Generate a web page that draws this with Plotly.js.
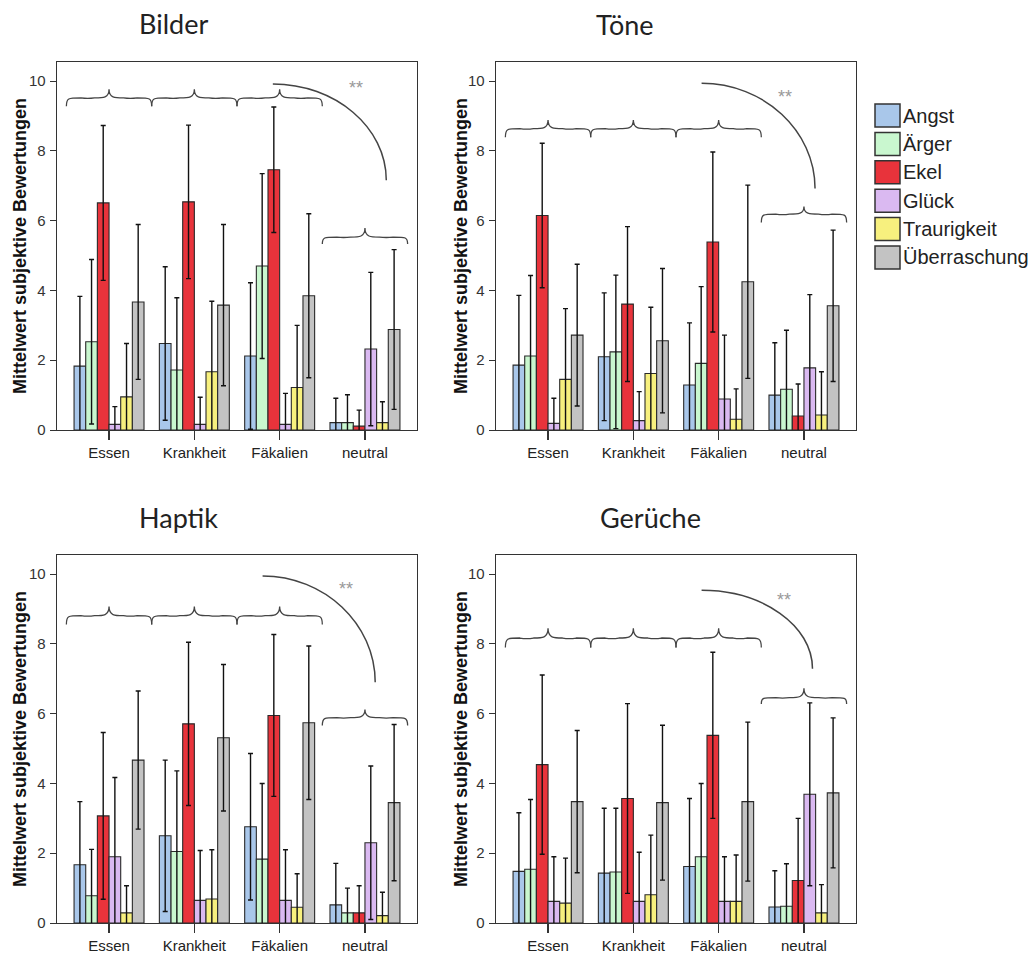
<!DOCTYPE html>
<html><head><meta charset="utf-8">
<script src="https://cdn.plot.ly/plotly-3.0.1.min.js"></script>
<style>html,body{margin:0;padding:0;background:#fff}#chart{width:1034px;height:954px}</style>
</head><body><div id="chart"></div>
<script>
const categories = ['Essen', 'Krankheit', 'Fäkalien', 'neutral'];
const emotions = ['Angst', 'Ärger', 'Ekel', 'Glück', 'Traurigkeit', 'Überraschung'];
const colors = ['#a9c7ea', '#c9f7cf', '#e8333b', '#dab9f1', '#f7f07e', '#c3c3c3'];
const panelTitles = ['Bilder', 'Töne', 'Haptik', 'Gerüche'];
const yTitle = 'Mittelwert subjektive Bewertungen';
const yTicks = [0, 2, 4, 6, 8, 10];

// rows = emotions, columns = categories
const bilderMeans = [
  [1.83, 2.48, 2.12, 0.21],
  [2.53, 1.72, 4.70, 0.21],
  [6.51, 6.54, 7.46, 0.11],
  [0.16, 0.16, 0.16, 2.32],
  [0.95, 1.67, 1.22, 0.21],
  [3.67, 3.58, 3.85, 2.88]
];
const bilderSD = [
  [2.00, 2.20, 2.10, 0.70],
  [2.36, 2.07, 2.65, 0.80],
  [2.22, 2.20, 1.80, 0.46],
  [0.51, 0.78, 0.89, 2.20],
  [1.53, 2.02, 1.78, 0.60],
  [2.22, 2.31, 2.35, 2.29]
];
const toeneMeans = [
  [1.86, 2.10, 1.29, 1.00],
  [2.12, 2.24, 1.91, 1.17],
  [6.15, 3.61, 5.39, 0.40],
  [0.19, 0.27, 0.89, 1.78],
  [1.45, 1.62, 0.31, 0.43],
  [2.72, 2.56, 4.25, 3.56]
];
const toeneSD = [
  [2.00, 1.83, 1.78, 1.50],
  [2.31, 2.20, 2.20, 1.69],
  [2.07, 2.22, 2.58, 0.92],
  [0.72, 0.83, 1.83, 2.10],
  [2.03, 1.90, 0.87, 1.24],
  [2.03, 2.07, 2.77, 2.17]
];
const haptikMeans = [
  [1.67, 2.50, 2.76, 0.52],
  [0.78, 2.05, 1.83, 0.29],
  [3.07, 5.71, 5.95, 0.29],
  [1.90, 0.65, 0.65, 2.30],
  [0.29, 0.69, 0.45, 0.21],
  [4.67, 5.31, 5.74, 3.45]
];
const haptikSD = [
  [1.81, 2.17, 2.10, 1.19],
  [1.33, 2.31, 2.17, 0.71],
  [2.39, 2.34, 2.32, 0.78],
  [2.27, 1.43, 1.45, 2.20],
  [0.78, 1.41, 0.96, 0.67],
  [1.98, 2.10, 2.20, 2.24]
];
const geruecheMeans = [
  [1.48, 1.43, 1.62, 0.46],
  [1.54, 1.46, 1.90, 0.48],
  [4.54, 3.57, 5.38, 1.22],
  [0.62, 0.62, 0.62, 3.69],
  [0.57, 0.81, 0.62, 0.29],
  [3.48, 3.45, 3.48, 3.73]
];
const geruecheSD = [
  [1.68, 1.86, 1.95, 1.04],
  [2.00, 1.83, 2.10, 1.22],
  [2.57, 2.72, 2.38, 1.78],
  [1.28, 1.41, 1.28, 2.62],
  [1.29, 1.71, 1.33, 0.81],
  [2.04, 2.22, 2.28, 2.15]
];

const W = 1034, H = 954;
const px = v => v / W;
const py = v => 1 - v / H;

const panels = [
  {means: bilderMeans, sds: bilderSD, xd: [57, 417], yd: [62, 430], tp: [173, 23], ytx: 20,
   brace: [9.77, 9.52, 9.28], nbrace: [5.79, 5.53, 5.33], arc: [1.92, 9.92, 3.25, 7.16], star: [2.89, 9.81]},
  {means: toeneMeans, sds: toeneSD, xd: [496, 856], yd: [62, 430], tp: [625, 25], ytx: 461,
   brace: [8.89, 8.64, 8.39], nbrace: [6.41, 6.19, 5.95], arc: [1.80, 9.94, 3.13, 6.92], star: [2.78, 9.56]},
  {means: haptikMeans, sds: haptikSD, xd: [57, 417], yd: [555, 923], tp: [178, 517], ytx: 20,
   brace: [9.07, 8.81, 8.56], nbrace: [6.12, 5.89, 5.66], arc: [1.80, 9.95, 3.12, 6.90], star: [2.78, 9.57]},
  {means: geruecheMeans, sds: geruecheSD, xd: [496, 856], yd: [555, 923], tp: [650, 517], ytx: 461,
   brace: [8.45, 8.17, 7.90], nbrace: [6.73, 6.46, 6.28], arc: [1.80, 9.54, 3.10, 7.29], star: [2.77, 9.26]}
];

function bracePath(xl, xr, xc, yp, yh, ye) {
  const w = 0.17;
  const sag = (yh - ye) * 0.12;
  return `M ${xl},${ye} C ${xl},${yh} ${xl + 0.02},${yh} ${xl + w},${yh} ` +
         `Q ${(xl + xc) / 2},${yh - sag} ${xc - w},${yh} C ${xc - 0.4 * w},${yh} ${xc},${yh} ${xc},${yp} ` +
         `C ${xc},${yh} ${xc + 0.4 * w},${yh} ${xc + w},${yh} ` +
         `Q ${(xr + xc) / 2},${yh - sag} ${xr - w},${yh} C ${xr - 0.02},${yh} ${xr},${yh} ${xr},${ye}`;
}

const data = [];
const layout = {
  width: W, height: H,
  margin: {l: 0, r: 0, t: 0, b: 0},
  paper_bgcolor: '#ffffff', plot_bgcolor: '#ffffff',
  barmode: 'group', bargap: 0.18, bargroupgap: 0,
  showlegend: false,
  font: {family: 'Arial, Liberation Sans, sans-serif', color: '#222'},
  shapes: [], annotations: []
};

panels.forEach((p, i) => {
  const n = i + 1;
  const xa = 'x' + n, ya = 'y' + n;
  emotions.forEach((em, s) => {
    data.push({
      type: 'bar', name: em, x: categories, y: p.means[s],
      xaxis: xa, yaxis: ya,
      marker: {color: colors[s], line: {color: '#2a2a2a', width: 1.1}},
      error_y: {type: 'data', array: p.sds[s], visible: true, symmetric: true,
                color: '#111', thickness: 1.4, width: 2.5},
      hoverinfo: 'skip'
    });
  });
  layout['xaxis' + n] = {
    domain: [px(p.xd[0]), px(p.xd[1])], anchor: ya, type: 'category',
    range: [-0.61, 3.61], showline: true, mirror: true, linecolor: '#333', linewidth: 1.3,
    ticks: 'outside', ticklen: 9, tickcolor: '#333', tickwidth: 1.3,
    tickfont: {family: 'Arial, Liberation Sans, sans-serif', size: 15, color: '#222'},
    showgrid: false, zeroline: false, fixedrange: true
  };
  layout['yaxis' + n] = {
    domain: [py(p.yd[1]), py(p.yd[0])], anchor: xa,
    range: [0, 10.55], tickvals: yTicks, showline: true, mirror: true,
    linecolor: '#333', linewidth: 1.3, ticks: 'outside', ticklen: 6, tickcolor: '#333',
    tickfont: {family: 'Arial, Liberation Sans, sans-serif', size: 15, color: '#333'},
    ticklabelstandoff: 1,
    showgrid: false, zeroline: false, fixedrange: true
  };
  // panel title
  layout.annotations.push({
    text: panelTitles[i], xref: 'paper', yref: 'paper', x: px(p.tp[0]), y: py(p.tp[1]),
    xanchor: 'center', yanchor: 'middle', showarrow: false,
    font: {family: 'Lato, Open Sans, sans-serif', size: 27, color: '#222'}
  });
  // y axis title
  layout.annotations.push({
    text: yTitle, xref: 'paper', yref: 'paper', x: px(p.ytx), y: py((p.yd[0] + p.yd[1]) / 2),
    xanchor: 'center', yanchor: 'middle', showarrow: false, textangle: -90,
    font: {family: 'Arial, Liberation Sans, sans-serif', size: 18, color: '#111', weight: 'bold'}
  });
  // braces over the three categories
  [0, 1, 2].forEach(c => {
    layout.shapes.push({
      type: 'path', xref: xa, yref: ya,
      path: bracePath(c - 0.5, c + 0.5, c, p.brace[0], p.brace[1], p.brace[2]),
      line: {color: '#444', width: 1.3}
    });
  });
  layout.shapes.push({
    type: 'path', xref: xa, yref: ya,
    path: bracePath(2.5, 3.5, 3, p.nbrace[0], p.nbrace[1], p.nbrace[2]),
    line: {color: '#444', width: 1.3}
  });
  // significance arc
  const [x0, y0, x1, y1] = p.arc;
  layout.shapes.push({
    type: 'path', xref: xa, yref: ya,
    path: `M ${x0},${y0} C ${x0 + 0.55 * (x1 - x0)},${y0} ${x1},${y1 + 0.55 * (y0 - y1)} ${x1},${y1}`,
    line: {color: '#444', width: 1.5}
  });
  layout.annotations.push({
    text: '**', xref: xa, yref: ya, x: p.star[0], y: p.star[1],
    xanchor: 'center', yanchor: 'middle', showarrow: false,
    font: {family: 'Arial, Liberation Sans, sans-serif', size: 18, color: '#999'}
  });
});

// legend drawn manually
emotions.forEach((em, s) => {
  const top = 104 + s * 28.4;
  layout.shapes.push({
    type: 'rect', xref: 'paper', yref: 'paper',
    x0: px(875), x1: px(900), y0: py(top + 23), y1: py(top),
    fillcolor: colors[s], line: {color: '#333', width: 1.5}
  });
  layout.annotations.push({
    text: em, xref: 'paper', yref: 'paper', x: px(901), y: py(top + 11.5),
    xanchor: 'left', yanchor: 'middle', showarrow: false,
    font: {family: 'Arial, Liberation Sans, sans-serif', size: 20, color: '#222'}
  });
});

Plotly.newPlot('chart', data, layout, {staticPlot: true, displayModeBar: false});
</script>
</body></html>
